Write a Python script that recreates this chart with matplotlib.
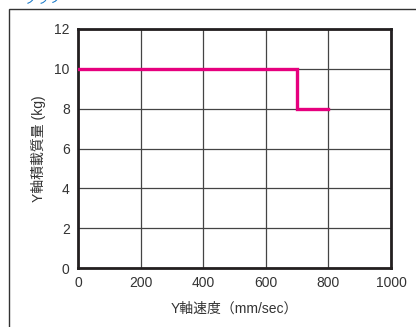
#!/usr/bin/env python3
import matplotlib
matplotlib.use("Agg")
import matplotlib.pyplot as plt
from matplotlib.patches import Rectangle

# Y axis speed vs. payload (step curve)
speed = [0, 700, 800]
payload = [10, 8, 8]

x_ticks = [0, 200, 400, 600, 800, 1000]
y_ticks = [0, 2, 4, 6, 8, 10, 12]

x_label = "Y軸速度（mm/sec）"
y_label = "Y軸積載質量 (kg)"

plt.rcParams['font.family'] = ['Liberation Sans', 'Noto Sans CJK JP', 'DejaVu Sans']


def main():
    fig = plt.figure(figsize=(4.16, 3.27), dpi=100)

    # outer frame, only top and left edges fall inside the picture
    fig.patches.append(Rectangle((9 / 416, -0.1), 1.2, 1.1 - 8.5 / 327,
                                 transform=fig.transFigure, fill=False,
                                 edgecolor="#333333", linewidth=1.0))
    # cut-off blue heading at the very top
    fig.text(24 / 416, 1.0, "グラフ", color="#1a7ac8", fontsize=9,
             va="center", ha="left")

    ax = fig.add_axes([78 / 416, 1 - 268 / 327, 313 / 416, 239 / 327])
    ax.step(speed, payload, where="post", color="#e6007e", linewidth=2.4,
            solid_joinstyle="miter", zorder=3)

    ax.set_xlim(0, 1000)
    ax.set_ylim(0, 12)
    ax.set_xticks(x_ticks)
    ax.set_yticks(y_ticks)
    ax.grid(True, color="#444444", linewidth=0.9)
    ax.tick_params(length=0, labelsize=10, labelcolor="#333333", pad=6)
    for spine in ax.spines.values():
        spine.set_linewidth(2.0)
        spine.set_color("#231f20")

    ax.set_xlabel(x_label, fontsize=10, color="#333333", labelpad=8)
    ax.set_ylabel(y_label, fontsize=10, color="#333333", labelpad=6)

    fig.savefig("out.png", dpi=100)


if __name__ == "__main__":
    main()
